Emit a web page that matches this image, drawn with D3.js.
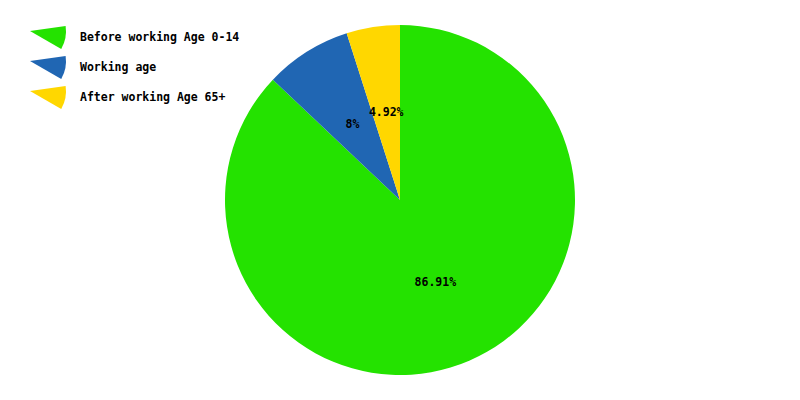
<!DOCTYPE html>
<html><head><meta charset="utf-8">
<script src="https://cdn.jsdelivr.net/npm/d3@7"></script>
<style>body{margin:0;background:#fff}svg{display:block}</style>
</head><body>
<svg id="c" width="800" height="400"></svg>
<script>
const categories = ["Before working Age 0-14", "Working age", "After working Age 65+"];
const values = [86.91, 8, 4.92];
const labels = ["86.91%", "8%", "4.92%"];
const colors = ["#24e200", "#2066b3", "#ffd700"];

const svg = d3.select("#c");
const W = 800, H = 400, cx = 400, cy = 200, R = 175;
const font = "'DejaVu Sans Mono', monospace";

const pie = d3.pie().sort(null).value(d => d)(values);
const arc = d3.arc().innerRadius(0).outerRadius(R);
const labelArc = d3.arc().innerRadius(R * 0.51).outerRadius(R * 0.51);

const g = svg.append("g").attr("transform", `translate(${cx},${cy})`);
g.selectAll("path").data(pie).join("path")
  .attr("d", arc).attr("fill", (d, i) => colors[i]);
g.selectAll("text").data(pie).join("text")
  .attr("transform", d => `translate(${labelArc.centroid(d)})`)
  .attr("text-anchor", "middle").attr("dy", "0.35em")
  .attr("font-family", font).attr("font-weight", "bold").attr("font-size", "11.5px")
  .attr("fill", "#000").text((d, i) => labels[i]);

// legend with wedge icons
const icon = d3.arc().innerRadius(0).outerRadius(36)
  .startAngle(Math.PI / 2 - 0.14).endAngle(Math.PI / 2 + 0.52);
const leg = svg.append("g");
categories.forEach((c, i) => {
  const y = 31 + i * 30;
  leg.append("path").attr("d", icon()).attr("transform", `translate(30,${y})`)
    .attr("fill", colors[i]);
  leg.append("text").attr("x", 80).attr("y", y + 10)
    .attr("font-family", font).attr("font-weight", "bold").attr("font-size", "11.5px")
    .attr("fill", "#000").text(c);
});
</script>
</body></html>
